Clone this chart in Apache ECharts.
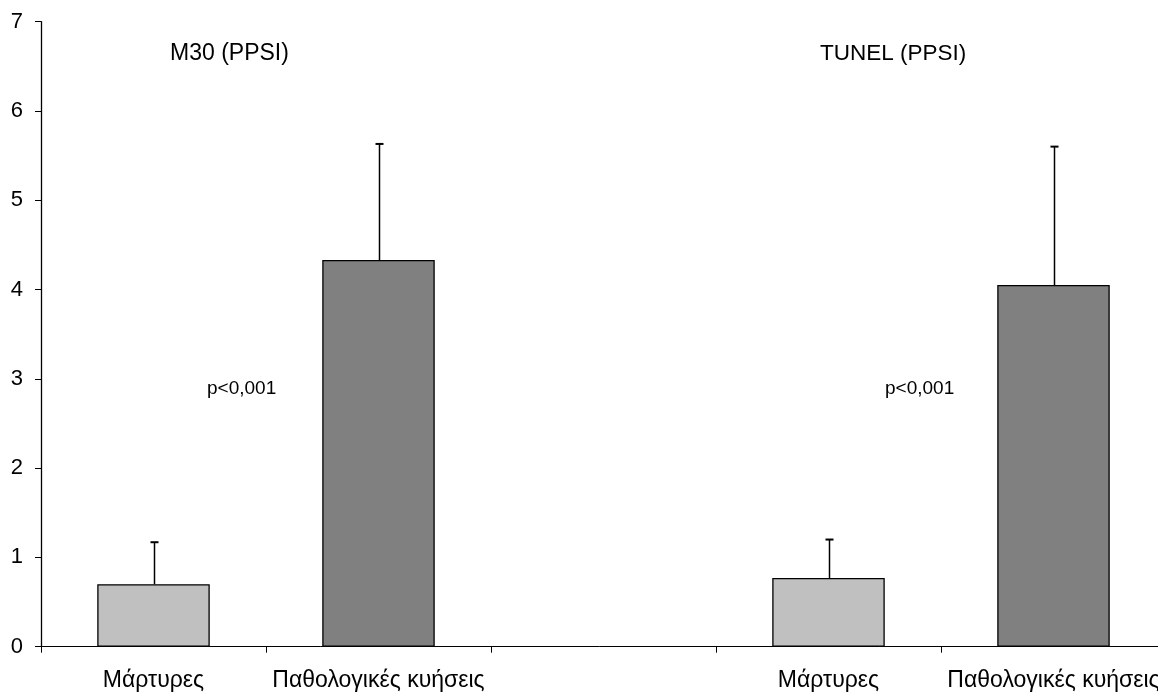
<!DOCTYPE html>
<html>
<head>
<meta charset="utf-8">
<style>
  html, body { margin: 0; padding: 0; background: #fff; }
  #chart { width: 1158px; height: 695px; }
</style>
<script src="https://cdn.jsdelivr.net/npm/echarts@6/dist/echarts.min.js"></script>
</head>
<body>
<div id="chart"></div>
<script>
// Group labels along the x axis (the middle slot is an empty spacer between the two assays)
const categories = ['Μάρτυρες', 'Παθολογικές κυήσεις', '', 'Μάρτυρες', 'Παθολογικές κυήσεις'];
// Mean values per group (PPSI)
const means = [0.70, 4.33, null, 0.77, 4.05];
// Upper end of the error bar (mean + SD)
const upper = [1.17, 5.63, null, 1.20, 5.60];
// Fill per group: controls light, pathological pregnancies dark
const fills = ['#C0C0C0', '#808080', null, '#C0C0C0', '#808080'];
const yTicks = [0, 1, 2, 3, 4, 5, 6, 7];

const FONT = 'Arial, "Liberation Sans", sans-serif';
const chart = echarts.init(document.getElementById('chart'), null, { renderer: 'canvas' });

const barData = means.map((v, i) => v == null ? null : ({
  value: v,
  itemStyle: { color: fills[i], borderColor: '#000', borderWidth: 1.3 }
}));
const errData = means.map((v, i) => v == null ? null : [i, v, upper[i]]);

chart.setOption({
  animation: false,
  backgroundColor: '#fff',
  // the last category runs past the right edge of the canvas
  grid: { left: 41, width: 1125, top: 21.6, bottom: 48.3, containLabel: false, outerBoundsMode: 'none' },
  xAxis: {
    type: 'category',
    data: categories,
    boundaryGap: true,
    axisLine: { lineStyle: { color: '#000', width: 1 } },
    axisTick: {
      show: true, length: 6, inside: false,
      lineStyle: { color: '#000' },
      interval: 0
    },
    axisLabel: { color: '#000', fontSize: 23, fontFamily: FONT, margin: 22, interval: 0, hideOverlap: false },
    splitLine: { show: false }
  },
  yAxis: {
    type: 'value',
    min: yTicks[0], max: yTicks[yTicks.length - 1], interval: 1,
    axisLine: { show: true, lineStyle: { color: '#000', width: 1.3 } },
    axisTick: { show: true, length: 6, inside: false, lineStyle: { color: '#000' } },
    axisLabel: { color: '#000', fontSize: 22, fontFamily: FONT, margin: 18 },
    splitLine: { show: false }
  },
  series: [
    {
      type: 'bar',
      data: barData,
      barWidth: '50%',
      z: 2
    },
    {
      type: 'custom',
      data: errData,
      z: 3,
      renderItem: function (params, api) {
        const base = api.coord([api.value(0), api.value(1)]);
        const top = api.coord([api.value(0), api.value(2)]);
        const x = Math.round(base[0]) + 0.5;
        const half = 4;
        return {
          type: 'group',
          children: [
            { type: 'line', shape: { x1: x, y1: base[1], x2: x, y2: top[1] },
              style: { stroke: '#000', lineWidth: 1.5 } },
            { type: 'line', shape: { x1: x - half, y1: top[1], x2: x + half, y2: top[1] },
              style: { stroke: '#000', lineWidth: 2 } }
          ]
        };
      }
    }
  ],
  graphic: [
    { type: 'text', left: 170, top: 42, style: { text: 'M30 (PPSI)', font: '23px ' + FONT, fill: '#000' } },
    { type: 'text', left: 820, top: 42, style: { text: 'TUNEL (PPSI)', font: '22.5px ' + FONT, fill: '#000' } },
    { type: 'text', left: 207, top: 379, style: { text: 'p<0,001', font: '19px ' + FONT, fill: '#000' } },
    { type: 'text', left: 885, top: 379, style: { text: 'p<0,001', font: '19px ' + FONT, fill: '#000' } }
  ]
});
</script>
</body>
</html>
